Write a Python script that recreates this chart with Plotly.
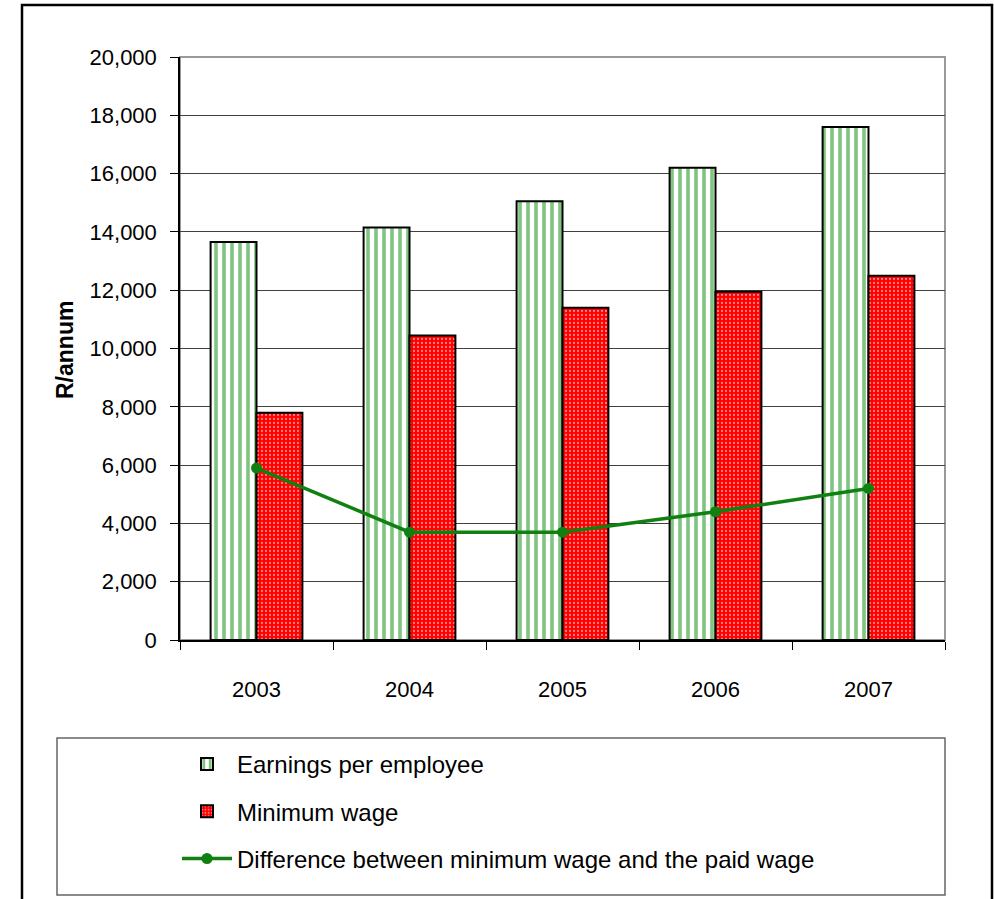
import plotly.graph_objects as go

years = ["2003", "2004", "2005", "2006", "2007"]
earnings = [13650, 14150, 15050, 16200, 17600]
min_wage = [7800, 10450, 11400, 11950, 12500]
difference = [5900, 3700, 3700, 4400, 5200]
y_ticks = [0, 2000, 4000, 6000, 8000, 10000, 12000, 14000, 16000, 18000, 20000]

FONT = "Liberation Sans, Arial, sans-serif"

fig = go.Figure()
fig.add_trace(go.Bar(
    x=years, y=earnings, name="Earnings per employee",
    marker=dict(color="white", line=dict(color="black", width=2),
                pattern=dict(shape="|", fgcolor="#008a00", bgcolor="white", size=8, solidity=0.45)),
    legendgroup="a",
))
fig.add_trace(go.Bar(
    x=years, y=min_wage, name="Minimum wage",
    marker=dict(color="red", line=dict(color="black", width=2),
                pattern=dict(shape=".", fgcolor="white", bgcolor="#ff0000", size=4, solidity=0.25)),
    legendgroup="b",
))
fig.add_trace(go.Scatter(
    x=years, y=difference, name="Difference between minimum wage and the paid wage",
    mode="lines+markers",
    line=dict(color="#108010", width=3.5),
    marker=dict(color="#108010", size=11),
    legendgroup="c",
))

W, H = 994, 899
L, R, T, B = 180, 945, 57, 640
def px(x):
    return (x - L) / (R - L)
def py(y):
    return (B - y) / (B - T)

shapes = [
    dict(type="rect", xref="paper", yref="paper", x0=px(22), x1=px(992), y0=py(910), y1=py(5),
         line=dict(color="black", width=2.5), layer="below"),
    dict(type="rect", xref="paper", yref="paper", x0=0, x1=1, y0=0, y1=1,
         line=dict(color="#999999", width=2), layer="below"),
    dict(type="rect", xref="paper", yref="paper", x0=px(57), x1=px(945), y0=py(895), y1=py(738),
         line=dict(color="#666666", width=1.5)),
]

fig.update_layout(
    width=W, height=H,
    margin=dict(l=L, r=W - R, t=T, b=H - B),
    paper_bgcolor="white", plot_bgcolor="white",
    font=dict(family=FONT, size=22, color="black"),
    barmode="group", bargap=0.4, bargroupgap=0,
    showlegend=True,
    legend=dict(x=px(177), y=py(742), xanchor="left", yanchor="top",
                font=dict(size=24, family=FONT), bgcolor="rgba(0,0,0,0)",
                tracegroupgap=13, itemwidth=50, traceorder="grouped"),
    shapes=shapes,
    annotations=[dict(text="<b>R/annum</b>", textangle=-90, xref="paper", yref="paper",
                      x=px(65), y=py(350), xanchor="center", yanchor="middle",
                      showarrow=False, font=dict(size=23, family=FONT))],
)
fig.update_xaxes(
    type="category", showline=True, linecolor="black", linewidth=1.5,
    ticks="outside", tickson="boundaries", ticklen=8, tickcolor="black",
    ticklabelstandoff=29, showgrid=False,
)
fig.update_yaxes(
    range=[0, 20000], tickvals=y_ticks, tickformat=",d",
    showline=True, linecolor="black", linewidth=1.5,
    ticks="outside", ticklen=8, tickcolor="black", ticklabelstandoff=9,
    showgrid=True, gridcolor="#404040", gridwidth=1, zeroline=False,
)
fig.write_html("out.html", config={"displayModeBar": False},
               post_script="document.body.style.margin='0';document.body.style.overflow='hidden';")
